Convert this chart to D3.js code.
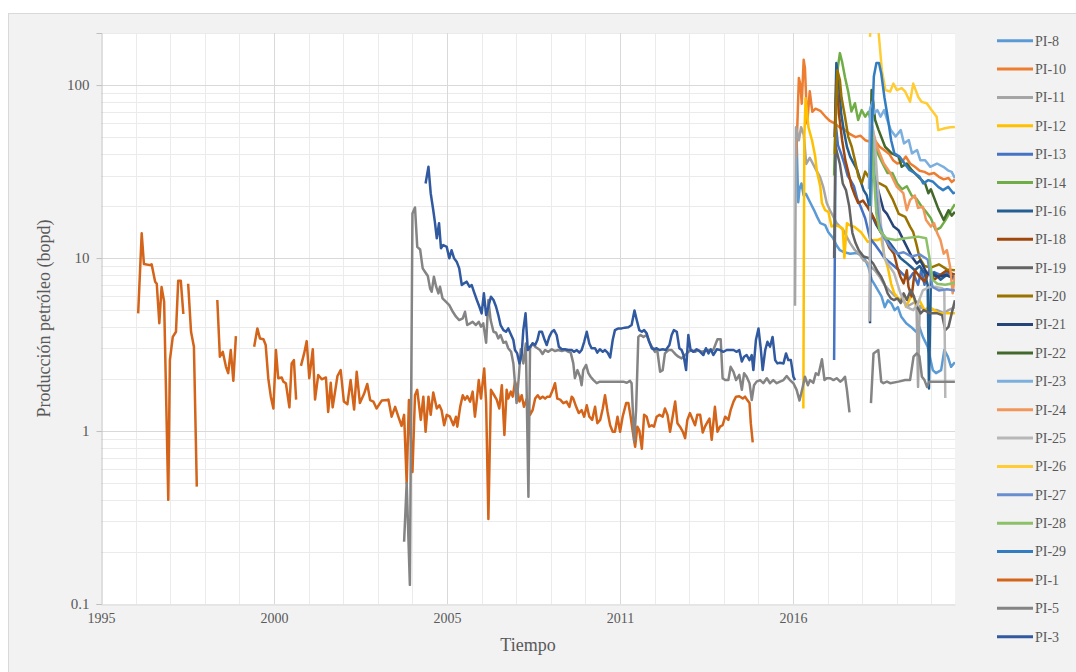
<!DOCTYPE html>
<html>
<head>
<meta charset="utf-8">
<script src="https://cdn.jsdelivr.net/npm/d3@7"></script>
<style>
body { margin: 0; background: #fff; }
text { font-family: "Liberation Serif", "Times New Roman", serif; fill: #595959; }
</style>
</head>
<body>
<div id="display-container"></div>
<script>

// each point: [decimal year, bopd]; null value = gap in the record
var pi8 = [[2016.70,57],[2016.76,21],[2016.80,25],[2016.86,27],[2016.93,23],[2017.00,23.5],[2017.13,21],[2017.25,19],[2017.35,17.3],[2017.45,15.9],[2017.60,15.5],[2017.70,14.1],[2017.85,13],[2017.95,11.9],[2018.06,11.1],[2018.20,10.8],[2018.38,10.6],[2018.58,10.7],[2018.80,10.2],[2018.95,8.9],[2019.05,7.5],[2019.15,7.0],[2019.25,6.5],[2019.36,6.0],[2019.46,5.2],[2019.56,5.7],[2019.67,5.45],[2019.77,5.0],[2019.87,5.2],[2019.97,4.6],[2020.13,4.2],[2020.28,4.0],[2020.44,3.75],[2020.54,4.0],[2020.65,3.5],[2020.80,3.07],[2020.96,2.25],[2021.06,2.16],[2021.22,2.25],[2021.32,2.94],[2021.43,2.69],[2021.53,2.35],[2021.65,2.5]];
var pi10 = [[2016.70,38],[2016.78,110],[2016.83,100],[2016.87,78],[2016.93,140],[2016.97,125],[2017.04,60],[2017.12,92],[2017.20,70],[2017.30,73],[2017.45,71],[2017.60,66],[2017.75,62],[2017.90,60],[2018.05,57],[2018.22,55],[2018.38,52],[2018.55,50],[2018.70,51],[2018.85,48],[2019.00,47],[2019.15,48],[2019.30,44],[2019.45,42],[2019.60,40],[2019.72,36.8],[2019.85,35.2],[2020.00,36],[2020.12,38.6],[2020.25,35.2],[2020.40,33.7],[2020.55,32],[2020.70,31.5],[2020.85,30.5],[2021.00,31],[2021.15,29.5],[2021.30,28.5],[2021.45,29],[2021.55,27.5],[2021.65,28.5]];
var pi11 = [[2016.66,5.3],[2016.69,57],[2016.78,48],[2016.85,57],[2016.93,52],[2017.01,35],[2017.12,38],[2017.22,35],[2017.33,32],[2017.44,29.5],[2017.54,25.8],[2017.65,20.8],[2017.75,18.9],[2017.86,17.3],[2017.96,15.9],[2018.06,15.2],[2018.17,14.5],[2018.27,13.3],[2018.38,12.2],[2018.53,11.1],[2018.69,10.4],[2018.80,9.7],[2018.90,9.5],[2019.00,9.0],[2019.15,8.5],[2019.30,7.8],[2019.45,7.0],[2019.60,6.5],[2019.75,6.1],[2019.90,5.8],[2020.05,5.6],[2020.20,5.3],[2020.35,5.5],[2020.45,5.6],[2020.50,1.8],[2020.55,5.3],[2020.70,5.0],[2020.90,5.0],[2021.10,5.0],[2021.30,4.8],[2021.45,5.0],[2021.65,5.2]];
var pi12 = [[2016.92,1.35],[2016.95,50],[2016.99,84],[2017.08,57],[2017.19,48],[2017.29,38.6],[2017.34,32],[2017.45,25.8],[2017.50,20.8],[2017.60,18.9],[2017.70,18.5],[2017.80,15.2],[2017.90,15.5],[2018.05,15.2],[2018.15,14.8],[2018.20,10],[2018.28,15.9],[2018.36,15.5],[2018.50,15.2],[2018.72,14.1],[2018.93,12.4],[2019.08,12.7],[2019.24,12.7],[2019.35,13],[2019.45,10.2],[2019.55,8.9],[2019.66,7.1],[2019.76,6.25],[2019.92,5.72],[2020.02,5.97],[2020.12,5.23],[2020.23,5.72],[2020.33,6.25],[2020.44,5.23],[2020.54,5.72],[2020.70,5.0],[2020.85,5.23],[2021.00,5.0],[2021.16,4.79],[2021.31,4.79],[2021.50,4.79],[2021.65,4.79]];
var pi13 = [[2017.88,2.57],[2017.93,60],[2018.00,45],[2018.10,40],[2018.20,35],[2018.30,30],[2018.40,28],[2018.50,26],[2018.60,22],[2018.70,20],[2018.85,17],[2019.00,13],[2019.15,12],[2019.30,11],[2019.45,10],[2019.60,9.5],[2019.75,9],[2019.90,8.5],[2020.05,8],[2020.20,7.5],[2020.35,8.2],[2020.50,7],[2020.60,8.5],[2020.70,7],[2020.80,8],[2021.00,8.3],[2021.20,8],[2021.40,8.2],[2021.65,8]];
var pi14 = [[2017.88,30],[2017.95,110],[2018.06,153],[2018.13,136],[2018.22,111],[2018.32,91.6],[2018.42,70.3],[2018.53,78.5],[2018.63,62.8],[2018.74,71.7],[2018.85,65.6],[2018.95,70],[2019.05,60],[2019.12,45],[2019.25,40],[2019.40,35],[2019.55,31],[2019.70,31],[2019.85,27],[2020.00,25],[2020.15,26],[2020.30,23],[2020.45,22],[2020.60,20],[2020.75,18.5],[2020.90,17],[2021.05,14.5],[2021.20,15],[2021.35,16.5],[2021.50,18.5],[2021.65,20.5]];
var pi16 = [[2017.90,50],[2017.95,134],[2018.03,102],[2018.10,68.5],[2018.18,55],[2018.28,44],[2018.38,38.6],[2018.49,35.2],[2018.60,32.3],[2018.70,28.2],[2018.80,24.7],[2018.90,23],[2019.00,19],[2019.10,17],[2019.20,15.5],[2019.35,14],[2019.50,13],[2019.65,12],[2019.80,11],[2019.95,10],[2020.10,9.5],[2020.25,9],[2020.40,8.5],[2020.55,9],[2020.70,8.2],[2020.80,7],[2020.84,1.76],[2020.90,7.5],[2021.00,8.2],[2021.20,7.5],[2021.40,8],[2021.65,7.5]];
var pi18 = [[2017.90,50],[2017.96,107],[2018.03,68.5],[2018.13,48],[2018.23,36.8],[2018.33,31],[2018.43,25.8],[2018.53,23],[2018.63,20.8],[2018.78,21.5],[2018.90,20],[2019.05,18],[2019.20,16],[2019.35,14],[2019.50,12.7],[2019.60,11.5],[2019.75,10.6],[2019.85,8.9],[2019.95,7.8],[2020.05,7.14],[2020.15,8.5],[2020.20,6.83],[2020.30,6.0],[2020.40,8.5],[2020.55,7.8],[2020.70,7.3],[2020.85,8.5],[2021.00,7.5],[2021.20,8],[2021.40,8.5],[2021.50,8.2],[2021.65,8]];
var pi19 = [[2017.88,10],[2017.92,45],[2017.98,40],[2018.06,35],[2018.15,27],[2018.25,24.7],[2018.35,20],[2018.45,14],[2018.55,12.2],[2018.65,11.1],[2018.80,10.2],[2018.95,10],[2019.10,9.3],[2019.25,8.3],[2019.35,7.8],[2019.45,7.1],[2019.55,6.25],[2019.65,5.84],[2019.75,5.72],[2019.86,5.84],[2019.96,5.5],[2020.05,6.25],[2020.15,5.72],[2020.27,6.53],[2020.37,6.0],[2020.47,5.23],[2020.58,4.79],[2020.68,5.0],[2020.89,4.79],[2021.10,4.79],[2021.25,4.68],[2021.35,3.83],[2021.45,4.0],[2021.55,4.79],[2021.65,5.7]];
var pi20 = [[2017.90,40],[2017.98,122],[2018.06,107],[2018.11,85],[2018.22,65.6],[2018.32,50.4],[2018.43,44],[2018.53,36.8],[2018.64,29.5],[2018.74,27],[2018.85,31.6],[2018.95,29.5],[2019.10,28],[2019.30,27],[2019.50,25.8],[2019.70,22],[2019.90,18],[2020.10,17.3],[2020.25,15.2],[2020.35,14.1],[2020.45,12],[2020.55,10],[2020.70,9],[2020.90,8.8],[2021.15,9.2],[2021.40,8.6],[2021.65,8.5]];
var pi21 = [[2019.00,4.2],[2019.03,35],[2019.12,30],[2019.20,27],[2019.30,23],[2019.42,19],[2019.53,18],[2019.63,16.6],[2019.74,15.2],[2019.89,14.5],[2019.99,13.3],[2020.15,11.6],[2020.30,10.2],[2020.46,9.3],[2020.57,9.7],[2020.67,8.9],[2020.77,8.2],[2020.93,8],[2021.14,7.8],[2021.35,7.96],[2021.55,7.8],[2021.65,7.8]];
var pi22 = [[2019.00,40],[2019.05,93.6],[2019.10,80],[2019.16,62.8],[2019.27,54.9],[2019.47,44],[2019.68,40.3],[2019.89,38.6],[2019.99,33.7],[2020.15,35.2],[2020.30,32.3],[2020.51,29.5],[2020.72,27],[2020.82,23.7],[2020.90,25],[2021.13,19.3],[2021.30,16.6],[2021.45,18.9],[2021.55,17.6],[2021.65,18.5]];
var pi23 = [[2018.97,25],[2019.00,73],[2019.08,80],[2019.13,68.5],[2019.23,71.7],[2019.33,65.6],[2019.44,71.7],[2019.54,62.8],[2019.65,54.9],[2019.80,50.4],[2019.96,54.9],[2020.06,46],[2020.21,48.1],[2020.31,40.3],[2020.47,42.1],[2020.57,36.8],[2020.72,36.8],[2020.88,33.7],[2021.09,35.2],[2021.29,33.7],[2021.45,32],[2021.55,31.5],[2021.65,29]];
var pi24 = [[2019.05,60],[2019.12,52],[2019.22,44],[2019.43,35.2],[2019.63,31],[2019.84,25.8],[2020.04,23.7],[2020.15,18.9],[2020.25,21.6],[2020.40,23],[2020.50,19.5],[2020.65,19.8],[2020.75,16.6],[2020.90,15.2],[2021.00,15.9],[2021.10,13.9],[2021.20,12.7],[2021.30,10.6],[2021.40,11.1],[2021.50,8.9],[2021.58,6.25],[2021.65,8]];
var pi25 = [[2018.98,4.3],[2019.02,40],[2019.08,57],[2019.15,46],[2019.25,25],[2019.35,15],[2019.45,10],[2019.55,9.3],[2019.75,8.2],[2019.95,6.25],[2020.15,5.2],[2020.35,5.0],[2020.50,5.5],[2020.65,6.5],[2020.85,6.8],[2021.05,6.8],[2021.25,6.7],[2021.32,6.5],[2021.35,1.55]];
var pi26 = [[2019.00,190],[2019.05,260],[2019.12,320],[2019.20,260],[2019.27,200],[2019.37,122],[2019.48,93.6],[2019.63,91.6],[2019.73,102],[2019.84,93.6],[2019.99,96],[2020.10,91.6],[2020.25,80],[2020.35,102],[2020.51,85],[2020.61,80],[2020.77,78.5],[2020.92,71.7],[2021.08,65.6],[2021.13,54.9],[2021.34,56.3],[2021.50,57],[2021.65,57.3]];
var pi27 = [[2019.03,20],[2019.08,45],[2019.14,30],[2019.28,16],[2019.45,13],[2019.65,11.5],[2019.85,10.6],[2020.05,10.8],[2020.30,10.2],[2020.55,10.5],[2020.80,9.8],[2020.95,6.8],[2021.15,6.5],[2021.40,6.6],[2021.65,6.5]];
var pi28 = [[2019.02,20],[2019.07,55],[2019.12,30],[2019.20,18],[2019.30,14.5],[2019.50,13],[2019.80,12.7],[2020.10,13],[2020.50,13.3],[2020.75,13],[2020.85,10.2],[2020.95,7.5],[2021.10,7.1],[2021.35,7.0],[2021.65,7.2]];
var pi29 = [[2019.00,20],[2019.05,48],[2019.12,112],[2019.20,134],[2019.28,134],[2019.35,117],[2019.45,85],[2019.55,65.6],[2019.66,48],[2019.76,40.3],[2019.92,38.6],[2020.08,35.2],[2020.23,32.3],[2020.39,31],[2020.55,29.5],[2020.66,27],[2020.82,28.2],[2020.97,27.6],[2021.13,25.8],[2021.28,24.7],[2021.44,25.8],[2021.60,23.7],[2021.65,24]];
var pi1 = [[1996.16,4.79],[1996.27,13.9],[1996.34,9.23],[1996.53,9.1],[1996.58,9.2],[1996.69,7.3],[1996.74,7.1],[1996.82,4.2],[1996.89,6.8],[1996.97,5.6],[1997.10,0.40],[1997.15,2.57],[1997.24,3.5],[1997.34,3.75],[1997.41,7.4],[1997.49,7.4],[1997.57,4.75],[1997.64,null],[1997.72,7.1],[1997.81,3.75],[1997.90,3.07],[1997.99,0.477],[1998.30,null],[1998.63,5.72],[1998.71,2.69],[1998.80,2.87],[1998.90,2.35],[1998.97,2.16],[1999.05,2.94],[1999.13,1.95],[1999.21,3.54],[1999.50,null],[1999.78,3.07],[1999.88,3.92],[1999.96,3.43],[2000.07,3.39],[2000.14,3.14],[2000.22,2.02],[2000.30,1.58],[2000.38,1.35],[2000.46,2.94],[2000.53,2.02],[2000.64,2.04],[2000.69,1.93],[2000.77,1.89],[2000.88,1.37],[2000.95,2.46],[2001.02,2.57],[2001.09,1.52],[2001.16,null],[2001.24,2.38],[2001.34,2.81],[2001.42,3.31],[2001.50,2.02],[2001.61,2.97],[2001.68,1.52],[2001.78,2.11],[2001.89,1.99],[2002.02,2.04],[2002.09,1.29],[2002.17,1.90],[2002.23,1.37],[2002.38,2.08],[2002.48,2.25],[2002.58,1.48],[2002.69,1.43],[2002.79,1.97],[2002.90,1.33],[2002.98,2.2],[2003.08,1.45],[2003.21,1.64],[2003.31,1.87],[2003.40,1.51],[2003.50,1.48],[2003.60,1.35],[2003.76,1.50],[2003.94,1.51],[2003.97,1.52],[2004.07,1.21],[2004.18,1.38],[2004.28,1.21],[2004.38,1.07],[2004.46,1.24],[2004.54,0.50],[2004.61,1.51],[2004.72,0.58],[2004.80,1.61],[2004.87,1.73],[2004.98,1.16],[2005.06,1.58],[2005.13,0.99],[2005.22,1.58],[2005.29,1.24],[2005.37,1.67],[2005.48,1.35],[2005.56,1.41],[2005.63,1.32],[2005.71,1.08],[2005.79,1.24],[2005.89,1.21],[2006.00,1.08],[2006.08,1.21],[2006.12,1.06],[2006.21,1.38],[2006.29,1.61],[2006.36,1.52],[2006.43,1.59],[2006.52,1.48],[2006.60,1.69],[2006.67,1.21],[2006.73,1.52],[2006.79,1.97],[2006.86,1.54],[2006.91,1.89],[2006.96,2.30],[2007.02,1.45],[2007.09,0.31],[2007.17,1.73],[2007.27,1.61],[2007.35,1.52],[2007.43,1.35],[2007.51,1.84],[2007.59,0.95],[2007.66,1.73],[2007.71,1.54],[2007.79,1.69],[2007.85,1.58],[2007.92,1.93],[2007.99,1.74],[2008.06,1.48],[2008.13,1.61],[2008.20,1.38],[2008.29,1.54],[2008.39,1.24],[2008.47,1.32],[2008.55,1.54],[2008.63,1.61],[2008.70,1.54],[2008.79,1.58],[2008.86,1.54],[2008.93,1.58],[2009.01,1.58],[2009.10,1.73],[2009.17,1.89],[2009.24,1.54],[2009.33,1.52],[2009.43,1.45],[2009.53,1.48],[2009.62,1.38],[2009.69,1.58],[2009.74,1.54],[2009.83,1.38],[2009.91,1.27],[2010.00,1.32],[2010.08,1.21],[2010.16,1.41],[2010.24,1.21],[2010.33,1.16],[2010.42,1.38],[2010.49,1.11],[2010.58,1.16],[2010.66,1.35],[2010.73,1.61],[2010.81,1.29],[2010.89,1.08],[2010.97,0.99],[2011.04,0.99],[2011.12,1.21],[2011.20,0.99],[2011.28,1.21],[2011.39,1.45],[2011.46,1.45],[2011.53,1.21],[2011.59,1.01],[2011.67,0.81],[2011.74,1.06],[2011.80,1.01],[2011.88,0.79],[2011.95,1.24],[2012.03,1.21],[2012.11,1.06],[2012.19,1.08],[2012.26,1.06],[2012.34,1.21],[2012.43,1.24],[2012.53,1.21],[2012.60,1.35],[2012.68,1.24],[2012.76,0.99],[2012.84,1.21],[2012.92,1.48],[2012.99,1.11],[2013.07,1.06],[2013.16,0.99],[2013.23,0.91],[2013.30,1.16],[2013.38,1.27],[2013.47,1.16],[2013.54,1.08],[2013.61,1.24],[2013.70,1.24],[2013.78,0.98],[2013.85,1.06],[2013.93,1.13],[2013.99,1.18],[2014.06,0.89],[2014.16,1.38],[2014.24,0.99],[2014.32,1.06],[2014.40,1.08],[2014.48,1.21],[2014.58,1.16],[2014.65,1.32],[2014.74,1.48],[2014.82,1.58],[2014.92,1.59],[2015.03,1.54],[2015.10,1.58],[2015.17,1.51],[2015.24,1.45],[2015.28,1.11],[2015.34,0.86]];
var pi5 = [[2004.46,0.229],[2004.54,0.50],[2004.64,0.129],[2004.72,18.1],[2004.80,19.6],[2004.87,11.6],[2004.96,11.2],[2005.04,8.72],[2005.11,8.34],[2005.20,7.87],[2005.27,6.68],[2005.32,6.38],[2005.39,7.80],[2005.46,6.83],[2005.53,6.25],[2005.58,6.83],[2005.66,5.84],[2005.77,5.58],[2005.87,5.34],[2005.98,4.89],[2006.08,4.58],[2006.18,4.38],[2006.29,4.48],[2006.36,4.89],[2006.43,4.10],[2006.52,4.19],[2006.60,4.28],[2006.70,4.10],[2006.79,4.28],[2006.86,4.01],[2006.93,4.19],[2007.02,3.24],[2007.09,5.72],[2007.16,4.38],[2007.25,3.75],[2007.33,3.70],[2007.40,3.43],[2007.47,3.59],[2007.56,3.24],[2007.64,3.28],[2007.71,3.01],[2007.80,2.87],[2007.87,2.46],[2007.92,1.89],[2007.97,1.45],[2008.04,2.06],[2008.10,2.97],[2008.18,2.46],[2008.26,3.21],[2008.34,0.417],[2008.39,3.01],[2008.47,3.21],[2008.55,3.07],[2008.62,3.01],[2008.70,2.94],[2008.78,2.79],[2008.86,2.94],[2008.96,2.87],[2009.07,2.97],[2009.17,2.90],[2009.27,2.94],[2009.38,2.90],[2009.48,2.94],[2009.59,2.87],[2009.66,2.84],[2009.74,2.46],[2009.79,2.02],[2009.87,2.25],[2009.95,2.06],[2010.00,1.84],[2010.05,2.25],[2010.14,2.41],[2010.21,2.16],[2010.28,2.06],[2010.37,1.97],[2010.47,1.89],[2010.57,1.93],[2010.68,1.93],[2010.89,1.93],[2011.09,1.93],[2011.30,1.93],[2011.41,1.90],[2011.51,1.95],[2011.56,1.89],[2011.64,0.87],[2011.70,1.32],[2011.77,3.50],[2011.84,3.59],[2011.93,3.50],[2012.03,3.59],[2012.11,3.28],[2012.19,3.07],[2012.29,2.87],[2012.36,2.94],[2012.45,2.20],[2012.53,2.25],[2012.60,2.81],[2012.71,2.94],[2012.81,2.94],[2012.92,2.79],[2013.02,2.69],[2013.12,2.63],[2013.23,2.75],[2013.33,2.87],[2013.44,2.94],[2013.54,2.87],[2013.64,2.94],[2013.75,2.87],[2013.90,2.94],[2014.11,2.94],[2014.24,3.39],[2014.34,3.39],[2014.40,2.02],[2014.48,1.97],[2014.58,1.97],[2014.65,2.35],[2014.74,2.20],[2014.82,1.97],[2014.92,2.11],[2015.00,1.73],[2015.07,2.16],[2015.15,2.06],[2015.24,1.89],[2015.31,1.51],[2015.38,1.84],[2015.46,1.93],[2015.57,1.97],[2015.67,1.89],[2015.78,2.02],[2015.88,1.89],[2015.98,1.97],[2016.09,1.89],[2016.19,1.93],[2016.30,1.97],[2016.40,2.08],[2016.50,1.97],[2016.61,1.89],[2016.71,1.73],[2016.80,1.50],[2016.89,1.76],[2016.97,2.06],[2017.06,1.84],[2017.13,1.97],[2017.23,1.90],[2017.31,2.16],[2017.39,2.11],[2017.50,2.60],[2017.58,1.97],[2017.65,2.02],[2017.76,2.02],[2017.86,1.97],[2017.96,2.02],[2018.07,1.93],[2018.14,1.97],[2018.22,2.06],[2018.28,1.73],[2018.36,1.28],[2018.70,null],[2019.03,1.45],[2019.11,2.81],[2019.26,2.94],[2019.35,1.93],[2019.42,1.89],[2019.53,1.93],[2019.63,1.89],[2019.89,1.93],[2020.10,1.97],[2020.25,1.97],[2020.36,2.69],[2020.46,2.81],[2020.54,2.71],[2020.62,2.06],[2020.70,1.97],[2020.78,1.80],[2020.85,1.93],[2020.98,1.93],[2021.14,1.93],[2021.35,1.93],[2021.56,1.93],[2021.65,1.93]];
var pi3 = [[2005.13,27.0],[2005.22,33.7],[2005.29,23.7],[2005.37,18.9],[2005.42,16.2],[2005.48,13.0],[2005.55,15.9],[2005.61,11.4],[2005.68,11.9],[2005.79,11.6],[2005.87,9.96],[2005.94,11.1],[2006.02,9.96],[2006.10,9.53],[2006.18,8.72],[2006.26,6.98],[2006.33,7.14],[2006.41,7.30],[2006.50,6.83],[2006.57,6.98],[2006.64,6.38],[2006.73,5.72],[2006.81,5.23],[2006.88,4.79],[2006.95,6.25],[2007.02,4.68],[2007.09,5.23],[2007.17,5.98],[2007.25,5.72],[2007.33,5.23],[2007.40,4.68],[2007.47,4.10],[2007.56,3.83],[2007.64,3.75],[2007.71,3.92],[2007.80,3.59],[2007.87,3.36],[2007.92,2.94],[2007.99,2.81],[2008.06,2.46],[2008.13,2.81],[2008.18,3.83],[2008.25,4.79],[2008.32,2.94],[2008.39,3.07],[2008.47,3.21],[2008.55,3.14],[2008.62,3.36],[2008.68,3.75],[2008.76,3.75],[2008.83,3.43],[2008.91,3.14],[2008.99,3.50],[2009.07,3.75],[2009.14,3.83],[2009.22,3.59],[2009.29,3.07],[2009.38,2.97],[2009.48,2.97],[2009.59,2.94],[2009.69,2.94],[2009.76,2.87],[2009.85,2.94],[2009.93,2.84],[2010.00,2.94],[2010.08,3.28],[2010.16,3.75],[2010.24,3.21],[2010.31,3.01],[2010.42,3.01],[2010.49,2.84],[2010.57,2.97],[2010.66,2.87],[2010.73,2.94],[2010.81,2.84],[2010.89,2.66],[2010.97,3.36],[2011.04,3.83],[2011.15,3.92],[2011.25,3.92],[2011.35,3.96],[2011.46,3.98],[2011.56,4.10],[2011.65,4.98],[2011.72,4.38],[2011.80,3.83],[2011.88,3.75],[2011.95,3.83],[2012.03,3.67],[2012.11,3.28],[2012.19,3.01],[2012.26,2.97],[2012.34,3.01],[2012.43,2.94],[2012.53,2.97],[2012.63,2.94],[2012.74,3.14],[2012.81,3.59],[2012.88,3.83],[2012.97,3.75],[2013.05,3.01],[2013.12,2.94],[2013.18,2.75],[2013.26,2.25],[2013.33,3.59],[2013.40,2.94],[2013.49,2.87],[2013.59,2.97],[2013.70,2.87],[2013.80,2.75],[2013.88,3.01],[2013.96,2.81],[2014.03,2.97],[2014.11,2.75],[2014.22,2.97],[2014.32,2.94],[2014.42,2.87],[2014.53,2.94],[2014.63,2.94],[2014.74,2.94],[2014.84,2.87],[2014.92,2.94],[2015.00,2.52],[2015.07,2.69],[2015.15,2.75],[2015.24,2.57],[2015.31,2.75],[2015.36,2.25],[2015.44,3.36],[2015.52,3.92],[2015.59,3.01],[2015.65,2.25],[2015.73,2.94],[2015.80,3.28],[2015.88,3.07],[2015.96,3.50],[2016.04,2.57],[2016.11,2.46],[2016.19,2.48],[2016.30,2.46],[2016.38,2.81],[2016.45,2.57],[2016.53,2.57],[2016.61,2.06],[2016.66,1.97]];

var seriesNames = ["PI-8","PI-10","PI-11","PI-12","PI-13","PI-14","PI-16","PI-18","PI-19","PI-20","PI-21","PI-22","PI-23","PI-24","PI-25","PI-26","PI-27","PI-28","PI-29","PI-1","PI-5","PI-3"];
var seriesColors = ["#5B9BD5","#ED7D31","#A5A5A5","#FFC000","#4472C4","#70AD47","#255E91","#9E480E","#636363","#997300","#264478","#43682B","#7CAFDD","#F1975A","#B7B7B7","#FFCD33","#698ED0","#8CC168","#327DC2","#D36419","#848484","#3059A0"];
var seriesData = [pi8,pi10,pi11,pi12,pi13,pi14,pi16,pi18,pi19,pi20,pi21,pi22,pi23,pi24,pi25,pi26,pi27,pi28,pi29,pi1,pi5,pi3];

var yTicks = [0.1, 1, 10, 100];
var yDomain = [0.1, 200];
var xStart = Date.UTC(1995, 0, 1);
var xEnd = Date.UTC(2021, 7, 27);
var tickStepDays = 1972;   // major unit of the date axis
var minorPerMajor = 5;

function toDate(yr){
    return new Date(xStart + (yr - 1995) * 365.25 * 864e5);
}

function drawChart(){
    d3.select("#display-container").selectAll("*").remove();

    var width = 1076;
    var height = 672;
    var margin = {top: 33, right: 121, bottom: 68, left: 101};

    var svg = d3.select("#display-container").append("svg")
        .attr("width", width)
        .attr("height", height);

    // chart area
    svg.append("rect")
        .attr("x", 8.5).attr("y", 13.5)
        .attr("width", width).attr("height", height)
        .style("fill", "#F2F2F2")
        .style("stroke", "#D9D9D9");

    var x = d3.scaleUtc()
        .domain([new Date(xStart), new Date(xEnd)])
        .range([margin.left, width - margin.right]);
    var y = d3.scaleLog()
        .domain(yDomain)
        .range([height - margin.bottom, margin.top]);

    svg.append("rect")
        .attr("x", x.range()[0]).attr("y", y.range()[1])
        .attr("width", x.range()[1] - x.range()[0])
        .attr("height", y.range()[0] - y.range()[1])
        .style("fill", "#fff");

    var grid = svg.append("g");

    // minor grid, log decades
    var minorY = [];
    yTicks.forEach(function(t){
        for (var m = 2; m <= 9; m++) {
            if (t * m <= yDomain[1]) minorY.push(t * m);
        }
    });
    grid.selectAll(".ymin").data(minorY).enter().append("line")
        .attr("x1", x.range()[0]).attr("x2", x.range()[1])
        .attr("y1", function(d){ return Math.round(y(d)) + 0.5; })
        .attr("y2", function(d){ return Math.round(y(d)) + 0.5; })
        .style("stroke", "#EBEBEB");

    var majorX = d3.range(0, 5).map(function(k){ return new Date(xStart + k * tickStepDays * 864e5); });
    var minorX = d3.range(1, 40).map(function(k){ return new Date(xStart + k * tickStepDays / minorPerMajor * 864e5); })
        .filter(function(d, i){ return d <= x.domain()[1] && (i + 1) % minorPerMajor != 0; });

    grid.selectAll(".xmin").data(minorX).enter().append("line")
        .attr("x1", function(d){ return Math.round(x(d)) + 0.5; })
        .attr("x2", function(d){ return Math.round(x(d)) + 0.5; })
        .attr("y1", y.range()[1]).attr("y2", y.range()[0])
        .style("stroke", "#EBEBEB");

    grid.selectAll(".ymaj").data(yTicks.slice(1)).enter().append("line")
        .attr("x1", x.range()[0]).attr("x2", x.range()[1])
        .attr("y1", function(d){ return Math.round(y(d)) + 0.5; })
        .attr("y2", function(d){ return Math.round(y(d)) + 0.5; })
        .style("stroke", "#D9D9D9");

    grid.selectAll(".xmaj").data(majorX.slice(1)).enter().append("line")
        .attr("x1", function(d){ return Math.round(x(d)) + 0.5; })
        .attr("x2", function(d){ return Math.round(x(d)) + 0.5; })
        .attr("y1", y.range()[1]).attr("y2", y.range()[0])
        .style("stroke", "#D9D9D9");

    // axes
    var yAxis = d3.axisLeft(y).tickValues(yTicks).tickSize(5).tickFormat(d3.format("~g"));
    var gy = svg.append("g")
        .attr("transform", "translate(" + (x.range()[0] + 0.5) + ",0)")
        .call(yAxis);
    gy.select(".domain").style("stroke", "#BFBFBF");
    gy.selectAll(".tick line").style("stroke", "#BFBFBF");
    gy.selectAll(".tick text")
        .attr("x", -12)
        .style("font-size", "15px")
        .style("font-family", "'Liberation Serif', 'Times New Roman', serif")
        .style("fill", "#595959");

    var xAxis = d3.axisBottom(x).tickValues(majorX).tickSize(0).tickPadding(9).tickFormat(d3.utcFormat("%Y"));
    var gx = svg.append("g")
        .attr("transform", "translate(0," + (y.range()[0] + 0.5) + ")")
        .call(xAxis);
    gx.select(".domain").style("stroke", "#D9D9D9");
    gx.selectAll(".tick text")
        .style("font-size", "14px")
        .style("font-family", "'Liberation Serif', 'Times New Roman', serif")
        .style("fill", "#595959");

    svg.append("clipPath").attr("id", "plot-clip")
        .append("rect")
        .attr("x", x.range()[0]).attr("y", y.range()[1])
        .attr("width", x.range()[1] - x.range()[0])
        .attr("height", y.range()[0] - y.range()[1]);

    var line = d3.line()
        .defined(function(d){ return d[1] != null; })
        .x(function(d){ return x(toDate(d[0])); })
        .y(function(d){ return y(d[1]); });

    var lines = svg.append("g").attr("clip-path", "url(#plot-clip)");
    lines.selectAll(".series")
        .data(seriesData)
        .enter().append("path")
        .attr("class", "series")
        .attr("d", line)
        .style("fill", "none")
        .style("stroke", function(d, i){ return seriesColors[i]; })
        .style("stroke-width", 2.5)
        .style("stroke-linejoin", "round");

    // titles
    svg.append("text")
        .attr("x", (x.range()[0] + x.range()[1]) / 2)
        .attr("y", 651)
        .style("text-anchor", "middle")
        .style("font-size", "18px")
        .text("Tiempo");

    svg.append("text")
        .attr("transform", "translate(50," + ((y.range()[0] + y.range()[1]) / 2) + ") rotate(-90)")
        .style("text-anchor", "middle")
        .style("font-size", "18px")
        .text("Producción petróleo (bopd)");

    // legend
    var legend = svg.append("g");
    var item = legend.selectAll(".item")
        .data(seriesNames)
        .enter().append("g")
        .attr("class", "item")
        .attr("transform", function(d, i){ return "translate(997," + (40.7 + i * 28.38) + ")"; });
    item.append("line")
        .attr("x1", 0).attr("x2", 36)
        .style("stroke", function(d, i){ return seriesColors[i]; })
        .style("stroke-width", 3);
    item.append("text")
        .attr("x", 38)
        .attr("dy", "0.35em")
        .style("font-size", "14px")
        .text(function(d){ return d; });
}

drawChart();
</script>
</body>
</html>
